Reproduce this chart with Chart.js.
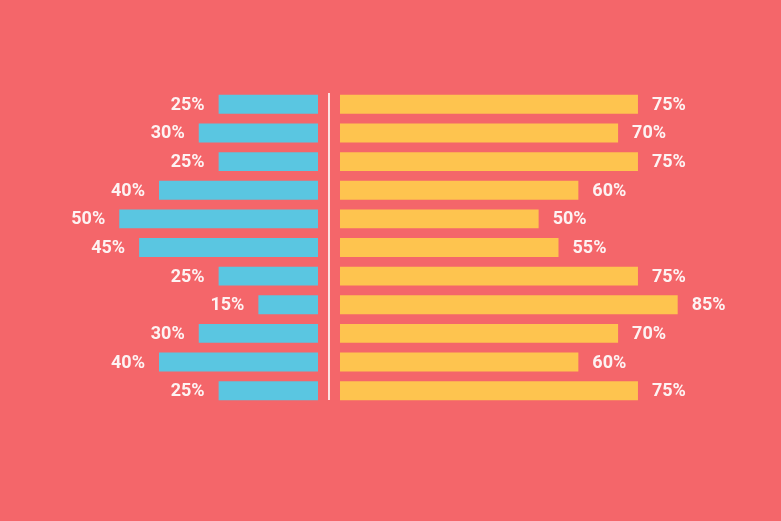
<!DOCTYPE html>
<html>
<head>
<meta charset="utf-8">
<script src="https://cdn.jsdelivr.net/npm/chart.js@4.4.0/dist/chart.umd.min.js"></script>
<style>
  html, body { margin: 0; padding: 0; }
  body { width: 781px; height: 521px; background: #F4666A; position: relative; overflow: hidden; }
  canvas { position: absolute; }
  #left { left: 0px; top: 90px; }
  #right { left: 340px; top: 90px; }
</style>
</head>
<body>
<canvas id="left" width="340" height="315"></canvas>
<canvas id="right" width="437" height="315"></canvas>
<script>
const rows = ['1', '2', '3', '4', '5', '6', '7', '8', '9', '10', '11'];
const leftValues = [25, 30, 25, 40, 50, 45, 25, 15, 30, 40, 25];
const rightValues = [75, 70, 75, 60, 50, 55, 75, 85, 70, 60, 75];

const BG = '#F4666A';
const BLUE = '#5AC6E1';
const YELLOW = '#FEC44F';
const TEXT = '#FDF3F3';
const FONT = 'bold 18px Roboto, "Liberation Sans", sans-serif';

function labelPlugin(side) {
  return {
    id: 'valueLabels' + side,
    afterDatasetsDraw(chart) {
      const ctx = chart.ctx;
      const meta = chart.getDatasetMeta(0);
      const vals = chart.data.datasets[0].data;
      ctx.save();
      ctx.font = FONT;
      ctx.fillStyle = TEXT;
      ctx.textBaseline = 'middle';
      meta.data.forEach((bar, i) => {
        const txt = vals[i] + '%';
        if (side === 'left') {
          ctx.textAlign = 'right';
          ctx.fillText(txt, bar.x - 14, bar.y + 1);
        } else {
          ctx.textAlign = 'left';
          ctx.fillText(txt, bar.x + 14, bar.y + 1);
        }
      });
      if (side === 'left') {
        const xs = chart.scales.x;
        const lineX = xs.getPixelForValue(0) + 11;
        ctx.strokeStyle = 'rgba(255,240,240,0.9)';
        ctx.lineWidth = 2;
        ctx.beginPath();
        ctx.moveTo(lineX, chart.chartArea.top + 3);
        ctx.lineTo(lineX, chart.chartArea.bottom - 5);
        ctx.stroke();
      }
      ctx.restore();
    }
  };
}

function makeChart(id, values, color, side, max) {
  return new Chart(document.getElementById(id), {
    type: 'bar',
    data: {
      labels: rows,
      datasets: [{
        data: values,
        backgroundColor: color,
        borderWidth: 0,
        barPercentage: 0.66,
        categoryPercentage: 1
      }]
    },
    options: {
      indexAxis: 'y',
      responsive: false,
      animation: false,
      devicePixelRatio: 1,
      layout: { padding: side === 'left' ? { right: 22 } : 0 },
      plugins: { legend: { display: false }, tooltip: { enabled: false } },
      scales: {
        x: { display: false, min: 0, max: max, reverse: side === 'left' },
        y: { display: false }
      }
    },
    plugins: [labelPlugin(side)]
  });
}

makeChart('left', leftValues, BLUE, 'left', 80);
makeChart('right', rightValues, YELLOW, 'right', 110);
</script>
</body>
</html>
